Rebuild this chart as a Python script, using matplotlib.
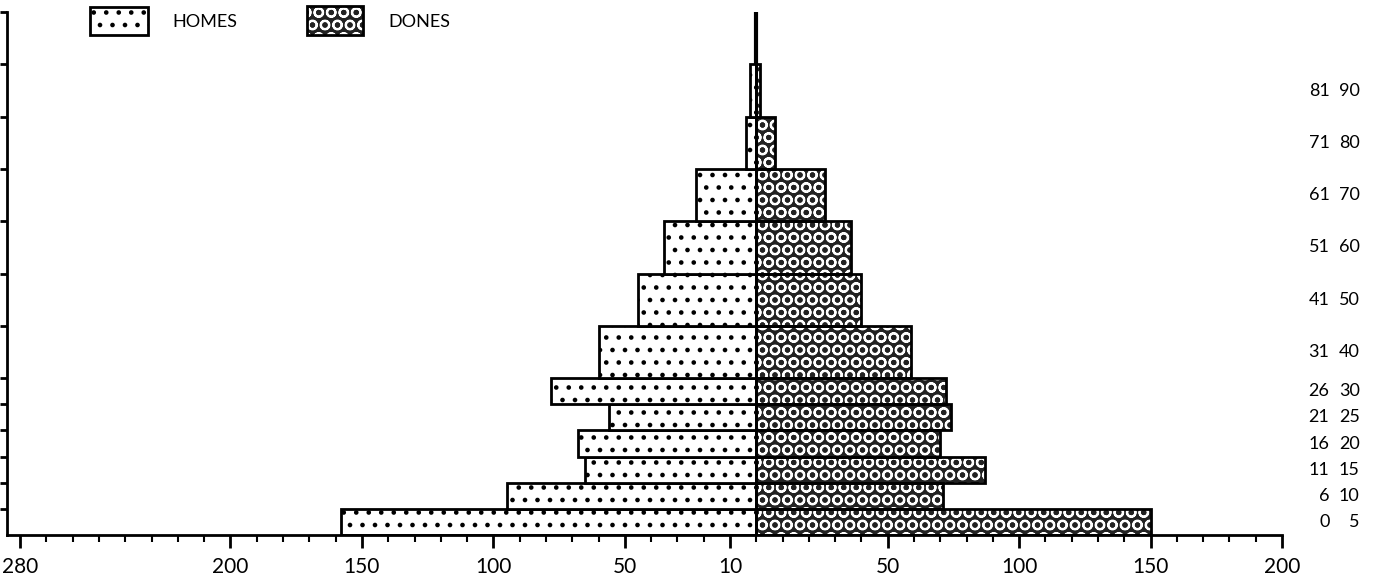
import matplotlib
matplotlib.use("Agg")
import matplotlib.pyplot as plt
from matplotlib.patches import Rectangle

# ---- data ----
age_low = [0, 6, 11, 16, 21, 26, 31, 41, 51, 61, 71, 81]
age_high = [5, 10, 15, 20, 25, 30, 40, 50, 60, 70, 80, 90]
homes = [158, 95, 65, 68, 56, 78, 60, 45, 35, 23, 4, 2.5]
dones = [150, 71, 87, 70, 74, 72, 59, 40, 36, 26, 7, 1.5]
top_age = 100
x_tick_values = [-280, -200, -150, -100, -50, -10, 50, 100, 150, 200]
x_tick_labels = ["280", "200", "150", "100", "50", "10", "50", "100", "150", "200"]
legend_labels = ["HOMES", "DONES"]

DPI = 75
S = 100 / DPI  # keep sizes as if drawn at 100 dpi

plt.rcParams['font.family'] = ['Lato', 'DejaVu Sans']
plt.rcParams['hatch.linewidth'] = 1.5 * S

fig = plt.figure(figsize=(1379 / DPI, 583 / DPI), dpi=DPI)
ax = fig.add_axes([0.0051, 0.0823, 0.9246, 0.897])

bottoms = [0] + age_high[:-1]
heights = [h - b for h, b in zip(age_high, bottoms)]

HOMES_STYLE = dict(facecolor='white', edgecolor='black', hatch='.')
DONES_FILL = dict(facecolor='#222222', edgecolor='white', hatch='O', linewidth=0)

ax.barh(bottoms, [-v for v in homes], height=heights, align='edge',
        linewidth=2 * S, **HOMES_STYLE)
ax.barh(bottoms, dones, height=heights, align='edge', **DONES_FILL)
ax.barh(bottoms, dones, height=heights, align='edge',
        facecolor='none', edgecolor='black', linewidth=2 * S)
ax.vlines(0, age_high[-1], top_age, color='black', linewidth=3 * S)
ax.vlines(0, 0, age_high[-1], color='black', linewidth=2 * S)

ax.set_xlim(-285, 200)
ax.set_ylim(0, top_age)

for s in ['top', 'right']:
    ax.spines[s].set_visible(False)
ax.spines['left'].set_linewidth(2 * S)
ax.spines['bottom'].set_linewidth(2 * S)

ax.set_xticks(x_tick_values)
ax.set_xticklabels(x_tick_labels, fontsize=15 * S)
ax.set_xticks(list(range(-280, 201, 10)), minor=True)
ax.tick_params(axis='x', which='major', length=9 * S, width=2 * S, direction='out', pad=7 * S)
ax.tick_params(axis='x', which='minor', length=5 * S, width=1.5 * S, direction='out')
ax.set_yticks(age_high + [top_age])
ax.set_yticklabels([])
ax.tick_params(axis='y', length=5 * S, width=2 * S, direction='out')

for lo, hi, b, h in zip(age_low, age_high, bottoms, heights):
    yc = b + h / 2
    ax.text(218, yc, str(lo), ha='right', va='center', fontsize=13 * S, clip_on=False)
    ax.text(229.5, yc, str(hi), ha='right', va='center', fontsize=13 * S, clip_on=False)

# legend drawn manually
fig.patches.append(Rectangle((90 / 1379, 1 - 35 / 583), 58 / 1379, 28 / 583,
                             transform=fig.transFigure, linewidth=2 * S, **HOMES_STYLE))
fig.text(172 / 1379, 1 - 22 / 583, legend_labels[0], fontsize=13 * S, va='center', ha='left')
fig.patches.append(Rectangle((307 / 1379, 1 - 35 / 583), 56 / 1379, 29 / 583,
                             transform=fig.transFigure, **DONES_FILL))
fig.patches.append(Rectangle((307 / 1379, 1 - 35 / 583), 56 / 1379, 29 / 583,
                             transform=fig.transFigure, facecolor='none',
                             edgecolor='black', linewidth=2 * S))
fig.text(388 / 1379, 1 - 22 / 583, legend_labels[1], fontsize=13 * S, va='center', ha='left')

fig.savefig('out.png', dpi=DPI)
